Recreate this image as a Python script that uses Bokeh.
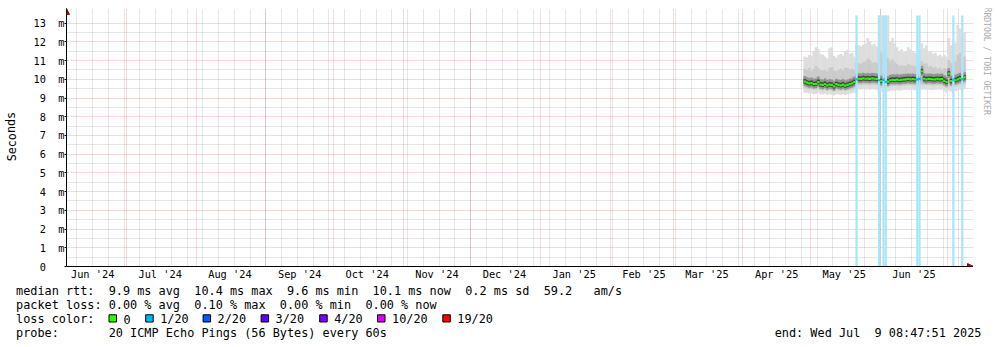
import re
import pandas as pd
from bokeh.plotting import figure
from bokeh.layouts import row, column
from bokeh.models import Range1d, FixedTicker, Label, Arrow, NormalHead
from bokeh.embed import file_html
from bokeh.resources import INLINE

# ---------------- data ----------------
graph_end = "2025-07-09 08:47:51"
graph_days = 400
first_day = "2025-04-28"          # first daily bin with data

median_ms = [
    9.88, 9.82, 9.78, 9.80, 9.74, 9.76, 9.85, 9.72, 9.70, 9.75, 9.68, 9.72,
    9.70, 9.62, 9.74, 9.70, 9.68, 9.72, 9.66, 9.70, 9.74, 9.78, 9.85, 10.00,
    10.03, 10.02, 10.05, 10.03, 10.04, 10.02, 10.05, 10.03, 10.02, 9.95, 9.90, 9.97,
    9.86, 9.88, 9.95, 9.97, 9.96, 9.98, 9.95, 9.97, 9.99, 10.00, 10.02, 10.00,
    10.01, 9.99, 10.00, 10.02, 10.42, 10.03, 10.00, 10.02, 10.01, 9.99, 10.00, 10.02,
    10.00, 10.01, 9.92, 9.85, 10.30, 9.90, 9.98, 9.95, 10.00, 10.05, 10.00, 10.10,
]
smoke_top_ms = [
    11.20, 11.15, 11.30, 11.25, 11.50, 11.70, 11.60, 11.35, 11.30, 11.20, 11.10, 11.65,
    11.70, 11.25, 11.15, 11.30, 11.35, 11.25, 11.50, 11.55, 11.35, 11.40, 11.20, 11.90,
    11.80, 11.75, 11.85, 11.90, 12.20, 12.00, 11.80, 11.90, 11.75, 13.40, 13.40, 13.40,
    13.40, 13.40, 12.00, 12.20, 11.90, 11.70, 11.50, 11.60, 11.45, 11.50, 11.70, 11.60,
    11.50, 11.40, 11.40, 11.60, 11.90, 11.65, 11.80, 11.45, 11.50, 11.35, 11.40, 11.25,
    11.30, 11.20, 11.30, 11.20, 12.20, 11.80, 11.90, 11.95, 12.90, 12.70, 12.30, 12.50,
]
smoke_upper_ms = [
    10.55, 10.50, 10.60, 10.45, 10.55, 10.70, 10.60, 10.50, 10.45, 10.50, 10.40, 10.60,
    10.65, 10.45, 10.40, 10.50, 10.55, 10.45, 10.60, 10.60, 10.50, 10.55, 10.50, 10.90,
    10.85, 10.80, 10.90, 10.95, 11.10, 11.00, 10.85, 10.90, 10.85, 11.60, 11.40, 11.50,
    11.30, 11.10, 10.95, 11.05, 10.90, 10.80, 10.70, 10.75, 10.70, 10.70, 10.80, 10.75,
    10.70, 10.65, 10.75, 10.80, 10.95, 10.80, 10.85, 10.65, 10.70, 10.60, 10.65, 10.55,
    10.60, 10.50, 10.60, 10.55, 11.00, 10.85, 10.90, 10.95, 11.30, 11.40, 11.10, 11.20,
]
smoke_lower_ms = [
    9.55, 9.50, 9.48, 9.50, 9.45, 9.46, 9.52, 9.44, 9.42, 9.46, 9.40, 9.44,
    9.42, 9.38, 9.45, 9.42, 9.40, 9.44, 9.40, 9.42, 9.45, 9.48, 9.52, 9.70,
    9.72, 9.70, 9.74, 9.72, 9.73, 9.70, 9.74, 9.72, 9.70, 9.62, 9.58, 9.64,
    9.55, 9.58, 9.64, 9.66, 9.65, 9.67, 9.64, 9.66, 9.68, 9.69, 9.70, 9.69,
    9.70, 9.68, 9.68, 9.70, 9.72, 9.72, 9.70, 9.71, 9.70, 9.68, 9.70, 9.71,
    9.69, 9.70, 9.62, 9.55, 9.70, 9.60, 9.66, 9.64, 9.68, 9.72, 9.68, 9.76,
]
smoke_bottom_ms = [
    9.30, 9.28, 9.25, 9.27, 9.22, 9.24, 9.30, 9.20, 9.20, 9.24, 9.18, 9.22,
    9.20, 9.15, 9.22, 9.20, 9.18, 9.22, 9.16, 9.20, 9.24, 9.27, 9.30, 9.45,
    9.48, 9.46, 9.50, 9.47, 9.48, 9.45, 9.50, 9.47, 9.45, 9.30, 9.35, 9.38,
    9.30, 9.35, 9.40, 9.42, 9.40, 9.43, 9.40, 9.42, 9.44, 9.45, 9.46, 9.45,
    9.46, 9.44, 9.42, 9.44, 9.45, 9.47, 9.45, 9.46, 9.45, 9.44, 9.46, 9.47,
    9.45, 9.46, 9.38, 9.30, 9.42, 9.35, 9.40, 9.38, 9.43, 9.45, 9.42, 9.50,
]
loss_count = [   # lost pings out of 20, per day
    0, 0, 0, 0, 0, 0, 0, 0, 0, 0, 0, 0,
    0, 0, 0, 0, 0, 0, 0, 0, 0, 0, 0, 1,
    0, 0, 0, 0, 0, 0, 0, 0, 0, 1, 0, 1,
    1, 0, 0, 0, 0, 0, 0, 0, 0, 0, 0, 0,
    0, 0, 1, 1, 0, 0, 0, 0, 0, 0, 0, 0,
    0, 0, 0, 0, 0, 0, 1, 0, 0, 0, 1, 0,
]

loss_levels = [0, 1, 2, 3, 4, 10, 19]
loss_labels = ["0", "1/20", "2/20", "3/20", "4/20", "10/20", "19/20"]
loss_colors = ["#26ff00", "#00b8ff", "#0059ff", "#5e00ff", "#7e00ff", "#dd00ff", "#ff0000"]

y_ticks = list(range(0, 14))
y_tick_labels = ["0"] + [f"{v} m" for v in range(1, 14)]

legend_line1 = "median rtt:  9.9 ms avg  10.4 ms max  9.6 ms min  10.1 ms now  0.2 ms sd  59.2   am/s"
legend_line2 = "packet loss: 0.00 % avg  0.10 % max  0.00 % min  0.00 % now"
legend_line3 = "loss color:"
legend_line4 = "probe:       20 ICMP Echo Pings (56 Bytes) every 60s"
end_text = "end: Wed Jul  9 08:47:51 2025"
y_title = "Seconds"
watermark = "RRDTOOL / TOBI OETIKER"

# ---------------- helpers ----------------
def ms(t):
    return pd.Timestamp(t).value / 1e6

def nb(s):
    return re.sub(r" {2,}", lambda m: "\u00a0" * len(m.group()), s)

def loss_color(c):
    col = loss_colors[0]
    for lv, cc in zip(loss_levels, loss_colors):
        if c >= lv:
            col = cc
    return col

def lighten(hexcol, a=0.35):
    r, g, b = (int(hexcol[i:i + 2], 16) for i in (1, 3, 5))
    r, g, b = (round(255 - (255 - v) * a) for v in (r, g, b))
    return "#%02x%02x%02x" % (r, g, b)

MONO = "DejaVu Sans Mono"
W, H = 997, 347
TOP_H = 283                 # height of the chart row
LEFT_W, RIGHT_W = 30, 24    # side strips
FL, FR, FT, FB = 66, 973, 8, 266   # chart frame on the canvas (incl. arrow room)
PX_PER_DAY = 2.25
PX_PER_MS = 18.72
TXT_DY = -4.5               # baseline correction for Label text

END = pd.Timestamp(graph_end)
START = END - pd.Timedelta(days=graph_days)
XEND = END + pd.Timedelta(days=(FR - FL - graph_days * PX_PER_DAY) / PX_PER_DAY)
YMAX = (FB - 15) / PX_PER_MS          # drawing area top (y = 15 px)
YTOP = (FB - FT) / PX_PER_MS          # frame top incl. arrow room

main_w = FR - LEFT_W
p = figure(width=main_w, height=TOP_H, x_axis_type="datetime", title=None,
           x_range=Range1d(ms(START), ms(XEND)), y_range=Range1d(0, YTOP),
           output_backend="svg", toolbar_location=None,
           min_border_left=FL - LEFT_W, min_border_right=0,
           min_border_top=FT, min_border_bottom=TOP_H - FB)
p.outline_line_color = None
p.background_fill_color = "white"
p.border_fill_color = "white"

# ---------------- grids ----------------
month_starts = pd.date_range("2024-06-01", "2025-08-01", freq="MS")
sundays = pd.date_range("2024-06-02", "2025-07-13", freq="W-SUN")
p.xgrid.ticker = FixedTicker(ticks=[ms(t) for t in month_starts if t <= END],
                             minor_ticks=[ms(t) for t in sundays if t <= END])
p.ygrid.ticker = FixedTicker(ticks=y_ticks, minor_ticks=[v + 0.5 for v in range(13)])
for g in (p.xgrid, p.ygrid):
    g.grid_line_color = "#de3030"
    g.grid_line_alpha = 0.38
    g.grid_line_dash = "1 1"
    g.minor_grid_line_color = "#8f8f8f"
    g.minor_grid_line_alpha = 0.45
    g.minor_grid_line_dash = "1 1"

# ---------------- axes ----------------
label_ticks = [ms(t + pd.Timedelta(days=15)) for t in month_starts
               if START <= t + pd.Timedelta(days=15) <= END]
label_names = [f"{pd.Timestamp(v * 1e6):%b} '{pd.Timestamp(v * 1e6):%y}" for v in label_ticks]
p.xaxis.ticker = FixedTicker(ticks=label_ticks)
p.xaxis.major_label_overrides = dict(zip(label_ticks, label_names))
p.xaxis.major_tick_line_color = None
p.xaxis.major_tick_out = 0
p.xaxis.major_tick_in = 0
p.xaxis.minor_tick_line_color = None
p.xaxis.major_label_standoff = 1

p.yaxis.ticker = FixedTicker(ticks=y_ticks)
p.yaxis.major_label_overrides = {v: nb(s.replace(" ", "  ") if s != "0" else "0   ")
                                 for v, s in zip(y_ticks, y_tick_labels)}
p.yaxis.major_tick_out = 2
p.yaxis.major_tick_in = 0
p.yaxis.minor_tick_line_color = None
p.yaxis.major_label_standoff = 0

for ax in (p.xaxis, p.yaxis):
    ax.axis_line_color = "black"
    ax.major_label_text_font = MONO
    ax.major_label_text_font_size = "10.3px"
    ax.major_label_text_color = "black"

# ---------------- smoke, loss, median ----------------
day_start = pd.date_range(first_day, periods=len(median_ms), freq="D")
x0 = [ms(t) for t in day_start]
x1 = [ms(t + pd.Timedelta(days=1)) for t in day_start]

def band(bottom, top, col):
    p.quad(left=x0, right=x1, bottom=bottom, top=top,
           fill_color=col, line_color=col, line_width=0.4)

band(smoke_bottom_ms, smoke_top_ms, "#dedede")
band(smoke_lower_ms, smoke_upper_ms, "#cbcbcb")
band([m - 0.22 for m in median_ms], [m + 0.28 for m in median_ms], "#929292")
band([m - 0.10 for m in median_ms], [m + 0.12 for m in median_ms], "#3c3c3c")

lx0 = [a for a, c in zip(x0, loss_count) if c > 0]
lx1 = [b for b, c in zip(x1, loss_count) if c > 0]
lcol = [lighten(loss_color(c)) for c in loss_count if c > 0]
p.quad(left=lx0, right=lx1, bottom=0, top=YMAX, fill_color=lcol, line_color=None)

p.segment(x0=x0, x1=x1, y0=median_ms, y1=median_ms,
          line_color=[loss_color(c) for c in loss_count], line_width=2.2)

# ---------------- axis arrows ----------------
ARROW = "#8b1010"
p.add_layout(Arrow(end=NormalHead(size=6, fill_color=ARROW, line_color=ARROW),
                   x_start=ms(START), y_start=YMAX, x_end=ms(START), y_end=YTOP,
                   line_color="black"))
p.add_layout(Arrow(end=NormalHead(size=6, fill_color=ARROW, line_color=ARROW),
                   x_start=ms(END), y_start=0, x_end=ms(XEND), y_end=0,
                   line_color="black"))

# ---------------- helper figures for the texts ----------------
def panel(w, h, cx0, cy0):
    f = figure(width=w, height=h, title=None, output_backend="svg", toolbar_location=None,
               x_range=Range1d(cx0, cx0 + w), y_range=Range1d(cy0 + h, cy0),
               min_border=0, x_axis_location=None, y_axis_location=None)
    f.grid.visible = False
    f.outline_line_color = None
    f.background_fill_color = "white"
    f.border_fill_color = "white"
    return f

def text(f, cx, cy, s, size="11.85px", align="left", baseline="alphabetic",
         angle=0.0, color="black"):
    f.add_layout(Label(x=cx, y=cy, text=nb(s), text_font=MONO, text_font_size=size,
                       text_color=color, text_align=align, text_baseline=baseline,
                       angle=angle))

left = panel(LEFT_W, TOP_H, 0, 0)
text(left, 11, 140.5, y_title, size="11.75px", align="center", baseline="middle",
     angle=1.5708)

right = panel(RIGHT_W, TOP_H, FR, 0)
text(right, 987, -1, watermark, size="8.1px", baseline="middle", angle=-1.5708,
     color="#aaaaaa")

legend = panel(W, H - TOP_H, 0, TOP_H)
text(legend, 15.5, 295 + TXT_DY, legend_line1)
text(legend, 15.5, 309 + TXT_DY, legend_line2)
text(legend, 15.5, 323 + TXT_DY, legend_line3)
text(legend, 15.5, 337 + TXT_DY, legend_line4)
text(legend, 981, 337 + TXT_DY, end_text, align="right")

box_lefts = [108.5, 145.2, 202.6, 260.6, 319.2, 377.0, 442.3]
legend.quad(left=box_lefts, right=[b + 7.5 for b in box_lefts],
            top=[314.3] * len(box_lefts), bottom=[321.5] * len(box_lefts),
            fill_color=loss_colors, line_color="black", line_width=1)
for bl, lab in zip(box_lefts, loss_labels):
    text(legend, bl + 14.5, 323 + TXT_DY, lab)

layout = column(row(left, p, right), legend)
open("out.html", "w").write(file_html(layout, INLINE))
